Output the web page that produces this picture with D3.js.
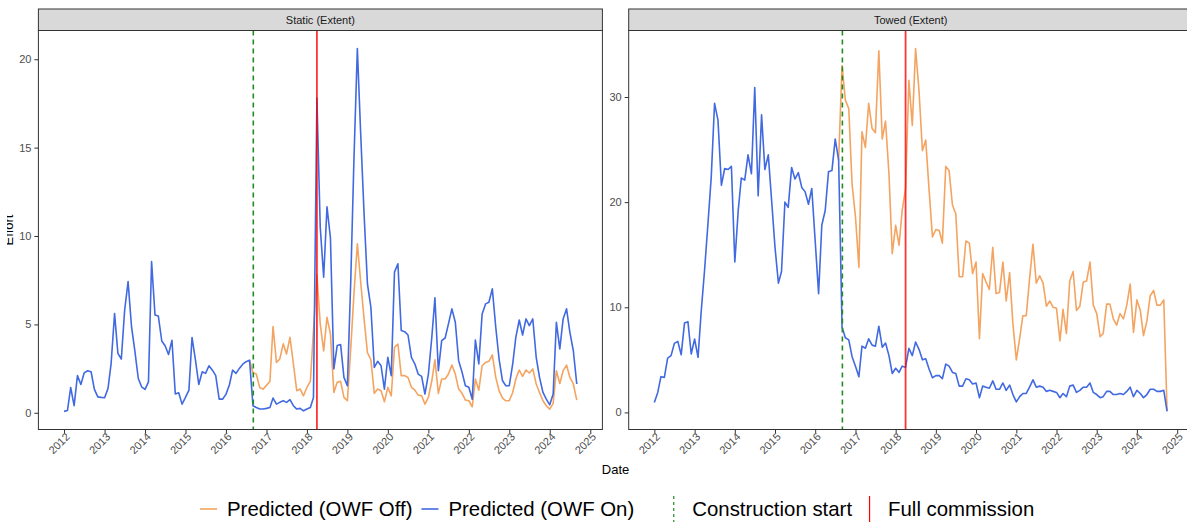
<!DOCTYPE html>
<html>
<head>
<meta charset="utf-8">
<script src="https://cdn.jsdelivr.net/npm/d3@7"></script>
<style>
  body { margin: 0; background: #fff; }
  svg { display: block; font-family: "Liberation Sans", Arial, sans-serif; }
</style>
</head>
<body>
<svg id="chart" width="1187" height="523"></svg>
<script>
// monthly series, first value = Jan 2012
const firstMonth = "2012-01";
// "OWF Off" counterfactual only departs from the "On" line at this month
const offFirstMonth = "2016-08";

const staticOn = [
  0.08, 0.13, 1.43, 0.4, 2.1, 1.6, 2.26, 2.38, 2.32, 1.32, 0.9, 0.87,
  0.85, 1.38, 2.8, 5.62, 3.36, 3.04, 5.8, 7.42, 4.87, 3.5, 1.94, 1.47,
  1.32, 1.75, 8.55, 5.53, 5.47, 4.06, 3.79, 3.3, 4.1, 1.06, 1.13, 0.49,
  0.87, 1.28, 4.26, 2.98, 1.6, 2.32, 2.23, 2.66, 2.41, 2.1, 0.77, 0.77,
  1.04, 1.57, 2.41, 2.23, 2.51, 2.75, 2.89, 2.98, 0.4, 0.3, 0.21, 0.21,
  0.25, 0.3, 0.83, 0.49, 0.59, 0.68, 0.59, 0.74, 0.4, 0.21, 0.25, 0.11,
  0.21, 0.3, 0.87, 17.8, 10.5, 7.67, 11.65, 9.9, 2.48, 3.8, 3.86, 2.0,
  1.53, 7.6, 14.3, 20.6, 15.8, 11.2, 7.29, 5.97, 2.57, 2.91, 2.66, 1.34,
  3.14, 2.1, 7.96, 8.43, 4.65, 4.59, 4.4, 3.14, 2.76, 2.19, 2.06, 1.06,
  2.19, 4.27, 6.5, 2.38, 4.08, 4.23, 5.03, 5.88, 5.12, 2.95, 2.29, 1.53,
  1.44, 0.77, 4.12, 2.76, 5.59, 6.16, 6.25, 7.01, 4.84, 3.04, 1.81, 1.53,
  1.53, 2.76, 4.27, 5.25, 4.4, 5.31, 4.93, 5.31, 3.14, 2.0, 1.15, 0.77,
  0.45, 1.06, 5.12, 3.61, 5.31, 5.88, 4.55, 3.51, 1.63
];
const staticOff = [
  2.98, 2.26, 2.19, 1.42, 1.34,
  1.55, 1.78, 4.88, 2.85, 3.04, 3.9, 3.33, 4.27, 2.76, 1.25, 1.34, 0.96,
  1.44, 1.78, 4.65, 7.8, 5.03, 3.5, 5.4, 4.46, 1.15, 1.72, 1.78, 0.87,
  0.68, 3.7, 6.7, 9.56, 7.4, 5.3, 3.4, 3.0, 1.1, 1.34, 1.25, 0.62,
  1.44, 0.96, 3.7, 3.89, 2.1, 2.1, 2.0, 1.44, 1.28, 1.0, 0.96, 0.49,
  0.87, 1.81, 3.0, 1.1, 1.91, 1.91, 2.19, 2.7, 2.19, 1.34, 1.1, 0.72,
  0.68, 0.34, 1.91, 1.28, 2.66, 2.85, 2.91, 3.27, 2.0, 1.25, 0.83, 0.68,
  0.68, 1.15, 1.91, 2.42, 2.06, 2.42, 2.25, 2.48, 1.63, 1.15, 0.68, 0.4,
  0.21, 0.53, 2.38, 1.66, 2.38, 2.7, 2.0, 1.63, 0.72
];
const towedOn = [
  0.95, 1.9, 3.4, 3.33, 5.17, 5.4, 6.57, 6.76, 5.49, 8.5, 8.63, 5.56,
  6.98, 5.24, 9.5, 13.5, 17.8, 22.4, 29.4, 27.8, 21.6, 23.2, 23.1, 23.4,
  14.3, 19.2, 22.3, 22.1, 24.5, 22.7, 30.9, 20.6, 28.3, 23.1, 24.5, 20.2,
  15.7, 12.3, 13.4, 20.0, 19.5, 23.3, 22.2, 22.8, 21.4, 21.0, 19.8, 21.3,
  16.3, 11.3, 17.8, 19.2, 22.9, 23.0, 26.0, 24.0, 8.1, 7.1, 6.9, 5.3,
  4.4, 3.4, 6.3, 6.1, 7.0, 6.4, 6.3, 8.2, 6.2, 6.6, 5.4, 3.7,
  4.2, 3.8, 4.4, 4.3, 6.1, 5.4, 6.7, 6.0, 5.0, 5.1, 4.1, 3.3,
  3.5, 3.5, 3.2, 4.6, 4.4, 3.8, 3.7, 2.5, 2.5, 3.2, 3.1, 2.7,
  2.8, 1.4, 2.5, 2.4, 2.3, 3.0, 2.2, 2.2, 2.8, 2.1, 2.6, 1.7,
  1.0, 1.5, 1.8, 1.8, 2.4, 3.1, 2.4, 2.5, 2.4, 2.0, 2.1, 2.0,
  1.9, 1.4, 1.8, 1.5, 2.5, 2.6, 1.9, 2.1, 2.4, 2.4, 2.8, 1.9,
  1.7, 1.4, 1.5, 2.0, 2.0, 1.7, 1.7, 1.8, 1.7, 2.0, 2.4, 1.5,
  2.1, 1.8, 1.4, 1.7, 2.2, 2.2, 2.0, 2.0, 2.1, 0.1
];
const towedOff = [
  24.0, 33.0, 29.7, 28.9, 21.7,
  18.6, 13.8, 26.7, 25.2, 29.4, 27.0, 26.6, 34.4, 26.0, 27.7, 22.7, 15.1,
  17.8, 15.9, 19.2, 21.3, 31.6, 27.3, 34.6, 30.6, 24.9, 25.9, 21.1, 16.7,
  17.4, 17.3, 16.1, 23.4, 23.0, 19.7, 18.9, 12.9, 12.9, 16.3, 16.1, 13.2,
  14.3, 7.0, 13.2, 12.4, 11.7, 15.7, 11.3, 11.4, 14.3, 10.6, 13.3, 8.4,
  5.0, 7.1, 9.2, 9.2, 12.7, 16.0, 12.3, 13.0, 12.3, 10.1, 10.6, 10.0,
  9.9, 6.8, 9.8, 7.5, 12.5, 13.4, 9.7, 10.1, 12.4, 12.5, 14.3, 10.2,
  9.4, 7.2, 7.5, 10.3, 10.3, 8.9, 8.3, 9.4, 8.9, 10.2, 12.2, 7.6,
  10.7, 9.7, 7.3, 8.7, 11.1, 11.6, 10.2, 10.2, 10.7, 0.16
];

const yTicksStatic = [0, 5, 10, 15, 20];
const yTicksTowed = [0, 10, 20, 30];
const constructionStart = "2016-09-04";
const fullCommission = "2018-04-01";
const panelTitles = ["Static (Extent)", "Towed (Extent)"];
const seriesNames = ["Predicted (OWF Off)", "Predicted (OWF On)"];
const eventNames = ["Construction start", "Full commission"];

const COL_OFF = "#F4A460", COL_ON = "#4169E1", COL_GREEN = "#228B22", COL_RED = "#FF0000";

const parseM = d3.timeParse("%Y-%m");
const parseD = d3.timeParse("%Y-%m-%d");

function toPoints(values, first) {
  const t0 = parseM(first);
  return values.map((v, i) => ({ date: d3.timeMonth.offset(t0, i), value: v }));
}

// ggplot-like 5% expansion
function expand(lo, hi) {
  const pad = (hi - lo) * 0.05;
  return [lo - pad, hi + pad];
}

const svg = d3.select("#chart");
const defs = svg.append("defs");

const panelW = 564, panelTop = 30.5, panelBottom = 429.5, stripTop = 9;
const panels = [
  { title: panelTitles[0], on: staticOn, off: staticOff, yTicks: yTicksStatic, left: 38.4 },
  { title: panelTitles[1], on: towedOn, off: towedOff, yTicks: yTicksTowed, left: 628.7 }
];

panels.forEach((p, pi) => {
  const onPts = toPoints(p.on, firstMonth);
  const offPts = toPoints(p.off, offFirstMonth);
  const all = onPts.concat(offPts);

  const tExt = d3.extent(all, d => +d.date);
  const vExt = d3.extent(all, d => d.value);
  const tDom = expand(tExt[0], tExt[1]).map(t => new Date(t));

  const x = d3.scaleTime().domain(tDom).range([p.left, p.left + panelW]);
  const y = d3.scaleLinear().domain(expand(vExt[0], vExt[1])).range([panelBottom, panelTop]);

  const g = svg.append("g");

  defs.append("clipPath").attr("id", "clip" + pi)
    .append("rect").attr("x", p.left).attr("y", panelTop)
    .attr("width", panelW).attr("height", panelBottom - panelTop);

  // strip
  g.append("rect")
    .attr("x", p.left).attr("y", stripTop)
    .attr("width", panelW).attr("height", panelTop - stripTop)
    .attr("fill", "#D9D9D9").attr("stroke", "#333333").attr("stroke-width", 1);
  g.append("text")
    .attr("x", p.left + panelW / 2).attr("y", (stripTop + panelTop) / 2)
    .attr("dy", "0.36em")
    .attr("text-anchor", "middle")
    .attr("fill", "#1A1A1A")
    .style("font-size", "11px")
    .text(p.title);

  const plot = g.append("g").attr("clip-path", `url(#clip${pi})`);
  const line = d3.line().x(d => x(d.date)).y(d => y(d.value));

  plot.append("path").datum(offPts)
    .attr("d", line).attr("fill", "none")
    .attr("stroke", COL_OFF).attr("stroke-width", 1.6).attr("stroke-linejoin", "round");
  plot.append("path").datum(onPts)
    .attr("d", line).attr("fill", "none")
    .attr("stroke", COL_ON).attr("stroke-width", 1.6).attr("stroke-linejoin", "round");

  plot.append("line")
    .attr("x1", x(parseD(constructionStart))).attr("x2", x(parseD(constructionStart)))
    .attr("y1", panelTop).attr("y2", panelBottom)
    .attr("stroke", COL_GREEN).attr("stroke-width", 1.6).attr("stroke-dasharray", "5,4");
  plot.append("line")
    .attr("x1", x(parseD(fullCommission))).attr("x2", x(parseD(fullCommission)))
    .attr("y1", panelTop).attr("y2", panelBottom)
    .attr("stroke", COL_RED).attr("stroke-width", 1.8).attr("stroke-opacity", 0.8);

  // border
  g.append("rect")
    .attr("x", p.left).attr("y", panelTop)
    .attr("width", panelW).attr("height", panelBottom - panelTop)
    .attr("fill", "none").attr("stroke", "#333333").attr("stroke-width", 1);

  // axes
  const ya = g.append("g").attr("transform", `translate(${p.left},0)`)
    .call(d3.axisLeft(y).tickValues(p.yTicks).tickSize(4).tickPadding(3));
  const xa = g.append("g").attr("transform", `translate(0,${panelBottom})`)
    .call(d3.axisBottom(x).ticks(d3.timeYear.every(1)).tickFormat(d3.timeFormat("%Y")).tickSize(4));

  [ya, xa].forEach(a => {
    a.select(".domain").remove();
    a.selectAll(".tick line").attr("stroke", "#333333");
    a.selectAll(".tick text")
      .attr("fill", "#4D4D4D")
      .style("font-size", "11px")
      .style("font-family", "\"Liberation Sans\", Arial, sans-serif");
  });

  xa.selectAll(".tick text")
    .attr("text-anchor", "end")
    .attr("x", 0).attr("y", 0).attr("dy", 0)
    .attr("transform", "translate(6,8) rotate(-45)");
});

// axis titles (the y title is cut at the left, as in the source figure)
defs.append("clipPath").attr("id", "clipYTitle")
  .append("rect").attr("x", 7).attr("y", 0).attr("width", 20).attr("height", 523);
svg.append("g").attr("clip-path", "url(#clipYTitle)")
  .append("text")
  .attr("transform", "translate(13,230) rotate(-90)")
  .attr("text-anchor", "middle")
  .style("font-size", "13px")
  .attr("fill", "#000")
  .text("Effort");

svg.append("text")
  .attr("x", (panels[0].left + panels[1].left + panelW) / 2)
  .attr("y", 474)
  .attr("text-anchor", "middle")
  .style("font-size", "13px")
  .attr("fill", "#000")
  .text("Date");

// legend
const legendItems = [
  { label: seriesNames[0], color: COL_OFF, kind: "h", gapAfter: 9 },
  { label: seriesNames[1], color: COL_ON, kind: "h", gapAfter: 31 },
  { label: eventNames[0], color: COL_GREEN, kind: "v", dash: "3,3", gapAfter: 9 },
  { label: eventNames[1], color: COL_RED, kind: "v", gapAfter: 9 }
];
const legY = 509, keyW = 17;
const leg = svg.append("g");
let cx = 200;
legendItems.forEach(it => {
  if (it.kind === "h") {
    leg.append("line")
      .attr("x1", cx).attr("x2", cx + keyW).attr("y1", legY).attr("y2", legY)
      .attr("stroke", it.color).attr("stroke-width", 1.6);
  } else {
    leg.append("line")
      .attr("x1", cx + keyW / 2).attr("x2", cx + keyW / 2)
      .attr("y1", legY - 13).attr("y2", legY + 13)
      .attr("stroke", it.color).attr("stroke-width", 1.2)
      .attr("stroke-dasharray", it.dash || null);
  }
  cx += keyW + 10;
  const t = leg.append("text")
    .attr("x", cx).attr("y", legY).attr("dy", "0.36em")
    .style("font-size", "20.4px").attr("fill", "#000")
    .text(it.label);
  cx += t.node().getComputedTextLength() + it.gapAfter;
});
</script>
</body>
</html>
